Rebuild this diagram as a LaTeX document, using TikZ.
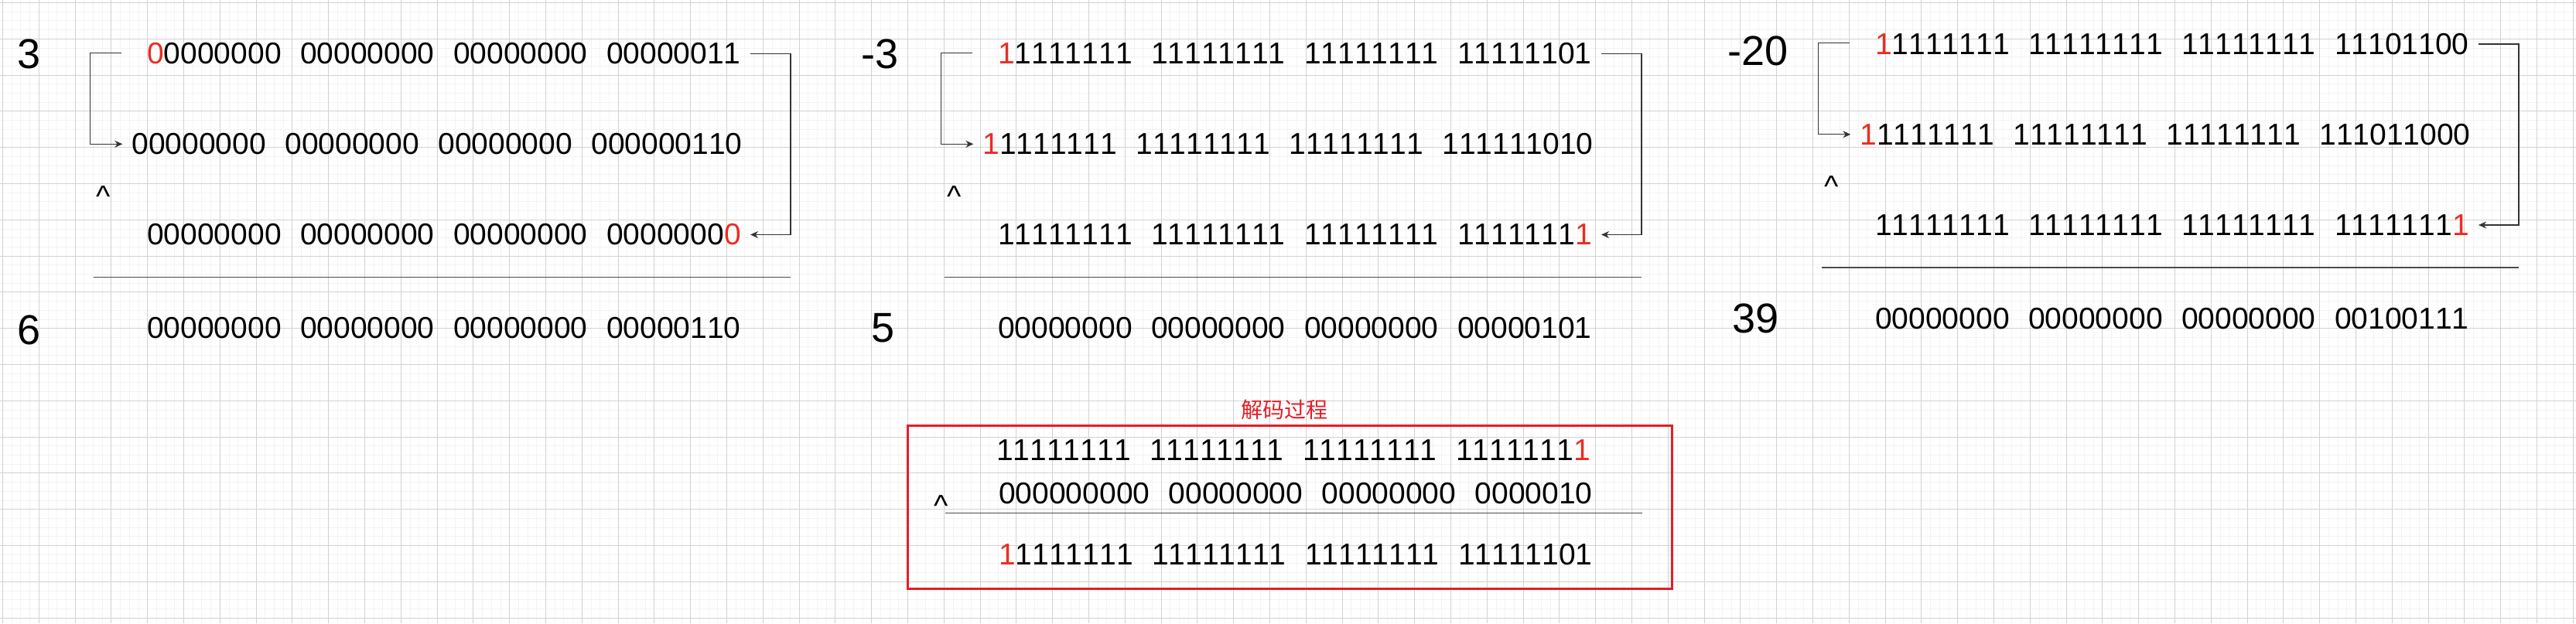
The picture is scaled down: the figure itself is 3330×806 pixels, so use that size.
\documentclass[tikz,border=0pt]{standalone}
\usepackage{fontspec}
\setmainfont{Liberation Sans}[Kerning=Off]
\newfontfamily\cjkfont{Noto Sans CJK SC}
\usepackage{xcolor}
\usetikzlibrary{arrows.meta}

\definecolor{bitred}{RGB}{233,45,35}
\definecolor{boxred}{RGB}{228,30,38}
\definecolor{gridmajor}{RGB}{210,210,210}
\definecolor{gridminor}{RGB}{243,243,243}
\newcommand{\rd}[1]{\textcolor{bitred}{#1}}
\newcommand{\bytes}[4]{#1\hspace{24.5pt}#2\hspace{24.5pt}#3\hspace{24.5pt}#4}

\begin{document}
\begin{tikzpicture}[x=1pt, y=-1pt,
    row/.style={inner xsep=12pt, inner ysep=0pt, font=\fontsize{39}{47}\selectfont},
    biglabel/.style={inner sep=0pt, anchor=base west, font=\fontsize{54}{65}\selectfont},
    xor/.style={inner sep=0pt, anchor=north, font=\fontsize{39}{47}\selectfont},
    conn/.style={draw=black!80, line width=1.3pt, -{Stealth[length=10pt, width=9pt]}},
    rule/.style={draw=black!70, line width=1.5pt}]

    \useasboundingbox (0,0) rectangle (3330,806);
    % background grid
    \fill[white] (0,0) rectangle (3330,806);
    \foreach \i in {0,...,284}
      \draw[gridminor, line width=1pt] ({3.5+11.7*\i},0) -- ({3.5+11.7*\i},806);
    \foreach \i in {0,...,68}
      \draw[gridminor, line width=1pt] (0,{3.5+11.7*\i}) -- (3330,{3.5+11.7*\i});
    \foreach \i in {0,...,71}
      \draw[gridmajor, line width=1pt] ({3.5+46.8*\i},0) -- ({3.5+46.8*\i},806);
    \foreach \i in {0,...,17}
      \draw[gridmajor, line width=1pt] (0,{3.5+46.8*\i}) -- (3330,{3.5+46.8*\i});

    % 3 << 1 ^ 3 >> 31
    \node[biglabel](na) at (22.5, 88){3};
    \node[row, anchor=east](a1) at (970, 69.5){\bytes{\rd{0}0000000}{00000000}{00000000}{00000011}};
    \node[row, anchor=east](a2) at (972, 186.3){\bytes{00000000}{00000000}{00000000}{000000110}};
    \node[xor](xa) at (134, 240){\textasciicircum};
    \node[row, anchor=east](a3) at (970, 303.5){\bytes{00000000}{00000000}{00000000}{0000000\rd{0}}};
    \coordinate (ai) at (157, 68.3);
    \draw[conn] (ai) -- ++(-40.5,0) |- (a2.west);
    \draw[conn] (a1.east) -- ++(52,0) |- (a3.east);
    \draw[rule] (120.7, 358.3) -- (1022, 358.3);
    \node[biglabel](nar) at (22.5, 445){6};
    \node[row, anchor=east](a4) at (970, 424){\bytes{00000000}{00000000}{00000000}{00000110}};

    % -3
    \node[biglabel](nb) at (1113, 88){-3};
    \node[row, anchor=east](b1) at (2070, 69.5){\bytes{\rd{1}1111111}{11111111}{11111111}{11111101}};
    \node[row, anchor=east](b2) at (2072, 186.3){\bytes{\rd{1}1111111}{11111111}{11111111}{111111010}};
    \node[xor](xb) at (1234, 240){\textasciicircum};
    \node[row, anchor=east](b3) at (2070, 303.5){\bytes{11111111}{11111111}{11111111}{1111111\rd{1}}};
    \coordinate (bi) at (1257, 68.3);
    \draw[conn] (bi) -- ++(-40.5,0) |- (b2.west);
    \draw[conn] (b1.east) -- ++(52,0) |- (b3.east);
    \draw[rule] (1220.7, 358.3) -- (2122, 358.3);
    \node[biglabel](nbr) at (1126, 442){5};
    \node[row, anchor=east](b4) at (2070, 424){\bytes{00000000}{00000000}{00000000}{00000101}};

    % -20
    \node[biglabel](nc) at (2233.5, 84){-20};
    \node[row, anchor=east](c1) at (3204, 57){\bytes{\rd{1}1111111}{11111111}{11111111}{11101100}};
    \node[row, anchor=east](c2) at (3206, 173.8){\bytes{\rd{1}1111111}{11111111}{11111111}{111011000}};
    \node[xor](xc) at (2367.6, 227.7){\textasciicircum};
    \node[row, anchor=east](c3) at (3204, 291){\bytes{11111111}{11111111}{11111111}{1111111\rd{1}}};
    \coordinate (ci) at (2391.3, 55.8);
    \draw[conn] (ci) -- ++(-40.5,0) |- (c2.west);
    \draw[conn] (c1.east) -- ++(52,0) |- (c3.east);
    \draw[rule] (2354.7, 345.8) -- (3256, 345.8);
    \node[biglabel](ncr) at (2239, 430){39};
    \node[row, anchor=east](c4) at (3204, 411.7){\bytes{00000000}{00000000}{00000000}{00100111}};

    % decoding
    \node[font=\fontsize{28}{34}\selectfont, text=boxred](title) at (1660, 530){\cjkfont 解码过程};
    \draw[boxred, line width=3pt] (1173.4, 550.7) rectangle (2161, 761.7);
    \node[row, anchor=east](d1) at (2068, 582.5){\bytes{11111111}{11111111}{11111111}{1111111\rd{1}}};
    \node[row, anchor=east](d2) at (2071, 638){\bytes{000000000}{00000000}{00000000}{0000010}};
    \node[xor](xd) at (1217, 640){\textasciicircum};
    \draw[rule] (1222, 663.7) -- (2123, 663.7);
    \node[row, anchor=east](d3) at (2071, 717){\bytes{\rd{1}1111111}{11111111}{11111111}{11111101}};
\end{tikzpicture}
\end{document}
